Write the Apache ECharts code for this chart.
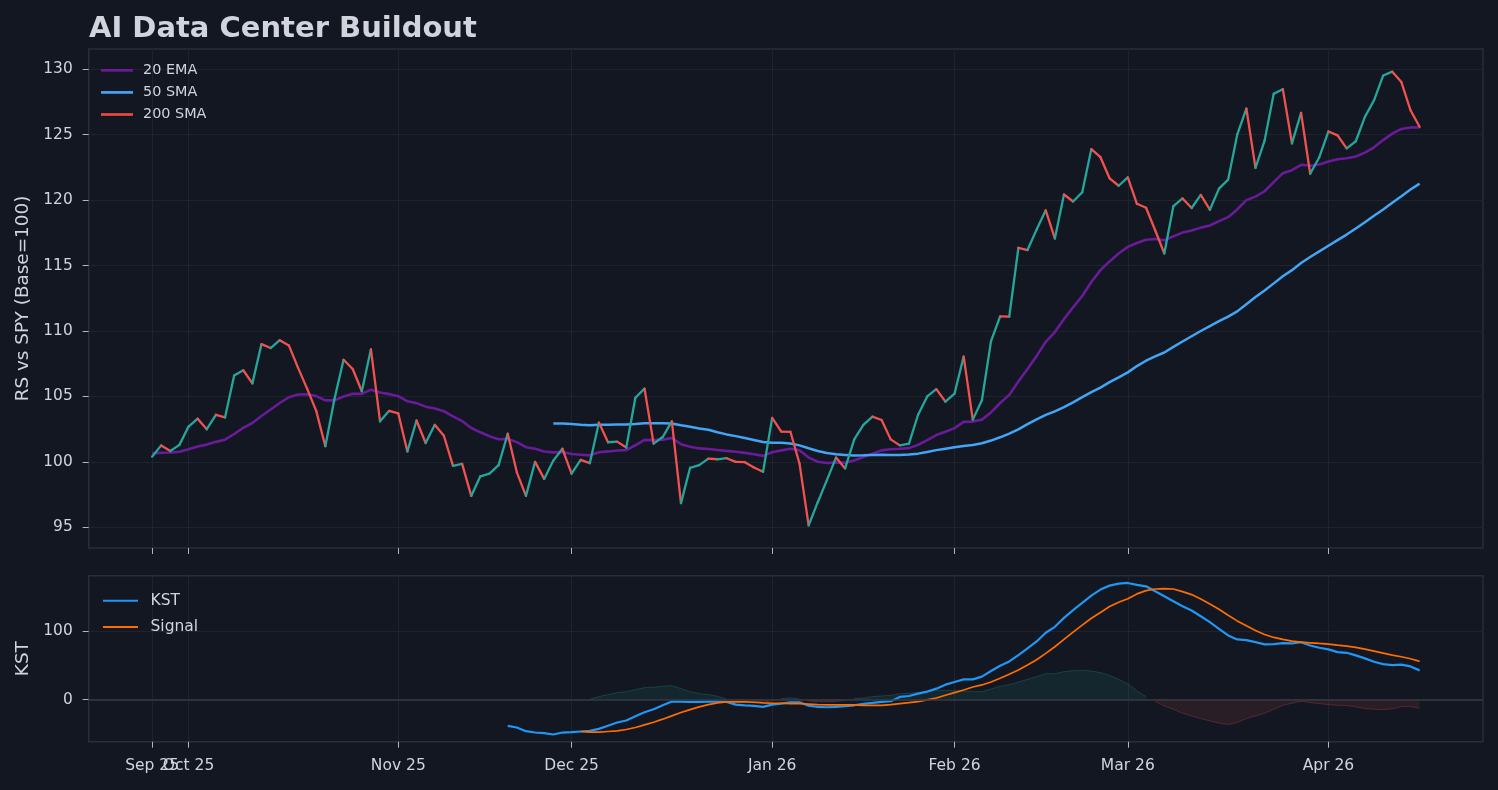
<!DOCTYPE html>
<html>
<head>
<meta charset="utf-8">
<script src="https://cdn.jsdelivr.net/npm/echarts@6/dist/echarts.min.js"></script>
<style>
html,body{margin:0;padding:0;background:#131722;}
#c{width:1498px;height:790px;}
</style>
</head>
<body>
<div id="c"></div>
<script>
// ---- data (trading-day index on x) ----
const tickIndex  = [0, 4, 27, 46, 68, 88, 107, 129];
const tickLabels = ['Sep 25', 'Oct 25', 'Nov 25', 'Dec 25', 'Jan 26', 'Feb 26', 'Mar 26', 'Apr 26'];
const priceTicks = [95, 100, 105, 110, 115, 120, 125, 130];
const kstTicks   = [0, 100];

const price = [
  100.4, 101.26, 100.83, 101.3, 102.7, 103.3, 102.5, 103.6, 103.4, 106.6,
  107.0, 106.0, 109.0, 108.7, 109.3, 108.9, 107.2, 105.6, 103.9, 101.2,
  104.8, 107.8, 107.1, 105.4, 108.6, 103.1, 103.9, 103.7, 100.8, 103.16,
  101.44, 102.83, 102.0, 99.7, 99.85, 97.4, 98.9, 99.1, 99.75, 102.15,
  99.2, 97.4, 100.0, 98.7, 100.1, 101.0, 99.1, 100.15, 99.9, 103.0,
  101.5, 101.55, 101.1, 104.9, 105.6, 101.4, 101.9, 103.1, 96.85, 99.55,
  99.75, 100.25, 100.2, 100.28, 100.0, 99.98, 99.57, 99.24, 103.36, 102.32,
  102.3, 99.87, 95.15, 96.92, 98.61, 100.33, 99.5, 101.72, 102.83, 103.46,
  103.2, 101.72, 101.26, 101.39, 103.6, 105.0, 105.56, 104.6, 105.22, 108.05,
  103.23, 104.71, 109.23, 111.12, 111.1, 116.36, 116.19, 117.75, 119.22, 117.07,
  120.43, 119.9, 120.6, 123.9, 123.28, 121.67, 121.1, 121.74, 119.72, 119.42,
  117.7, 115.93, 119.55, 120.13, 119.4, 120.4, 119.27, 120.88, 121.57, 125.0,
  127.0, 122.47, 124.55, 128.13, 128.48, 124.34, 126.67, 122.02, 123.28, 125.25,
  124.95, 123.96, 124.5, 126.36, 127.63, 129.52, 129.82, 129.02, 126.87, 125.61
];

const ema20 = [
  100.65, 100.7, 100.72, 100.78, 100.97, 101.18, 101.32, 101.53, 101.7, 102.13,
  102.6, 102.97, 103.51, 104.0, 104.5, 104.94, 105.15, 105.17, 105.03, 104.7,
  104.7, 105.0, 105.2, 105.2, 105.52, 105.3, 105.18, 105.02, 104.63, 104.49,
  104.22, 104.08, 103.87, 103.48, 103.12, 102.59, 102.26, 101.96, 101.73, 101.75,
  101.51, 101.12, 101.01, 100.8, 100.73, 100.76, 100.6, 100.55, 100.5, 100.74,
  100.8, 100.87, 100.9, 101.27, 101.68, 101.66, 101.7, 101.83, 101.35, 101.16,
  101.03, 100.98, 100.91, 100.84, 100.77, 100.69, 100.58, 100.46, 100.73, 100.88,
  101.01, 100.89, 100.33, 100.01, 99.91, 99.96, 99.93, 100.11, 100.37, 100.63,
  100.88, 100.96, 101.0, 101.05, 101.3, 101.67, 102.05, 102.3, 102.58, 103.06,
  103.08, 103.23, 103.78, 104.5, 105.12, 106.15, 107.1, 108.1, 109.17, 109.92,
  110.92, 111.82, 112.68, 113.75, 114.65, 115.32, 115.92, 116.43, 116.73, 116.97,
  117.03, 116.94, 117.23, 117.52, 117.68, 117.9, 118.06, 118.4, 118.7, 119.29,
  120.0, 120.27, 120.68, 121.38, 122.06, 122.29, 122.7, 122.63, 122.73, 122.95,
  123.12, 123.2, 123.34, 123.63, 124.04, 124.59, 125.08, 125.44, 125.55, 125.56
];

const sma50Start = 44;
const sma50 = [
  102.93, 102.93, 102.9, 102.84, 102.8, 102.83, 102.83, 102.85, 102.86, 102.9,
  102.95, 102.95, 102.95, 102.93, 102.8, 102.68, 102.55, 102.45, 102.27, 102.1,
  101.97, 101.82, 101.67, 101.52, 101.46, 101.46, 101.41, 101.26, 101.04, 100.83,
  100.68, 100.58, 100.53, 100.48, 100.5, 100.53, 100.55, 100.53, 100.53, 100.56,
  100.63, 100.76, 100.9, 101.01, 101.12, 101.22, 101.29, 101.42, 101.63, 101.88,
  102.16, 102.49, 102.88, 103.25, 103.59, 103.86, 104.19, 104.55, 104.95, 105.33,
  105.68, 106.09, 106.46, 106.84, 107.32, 107.73, 108.06, 108.36, 108.79, 109.2,
  109.6, 110.0, 110.38, 110.75, 111.1, 111.5, 112.05, 112.6, 113.1, 113.64,
  114.19, 114.65, 115.2, 115.66, 116.09, 116.52, 116.95, 117.37, 117.83, 118.31,
  118.81, 119.29, 119.8, 120.3, 120.81, 121.26
];

const sma200 = []; // not enough history: nothing drawn, legend only

const kstStart = 39;
const kst = [
  -38.3, -40.8, -46.1, -48.1, -49.0, -51.0, -48.1, -47.6, -46.6, -45.6,
  -42.7, -38.3, -33.5, -30.6, -24.3, -18.4, -14.1, -8.3, -2.9, -2.9,
  -3.4, -3.4, -2.9, -2.9, -3.4, -7.3, -8.3, -9.2, -10.7, -7.3,
  -5.8, -3.9, -4.0, -9.0, -10.7, -11.2, -10.7, -9.7, -8.3, -6.3,
  -4.9, -3.4, -2.4, 3.9, 5.3, 8.7, 11.6, 16.0, 21.8, 25.7,
  29.6, 29.6, 33.5, 41.7, 49.5, 55.8, 65.0, 74.8, 84.9, 97.6,
  106.3, 119.4, 130.6, 141.2, 151.9, 160.7, 166.5, 169.4, 170.4, 167.5,
  165.5, 158.2, 151.0, 143.7, 136.4, 130.1, 121.8, 113.1, 103.4, 93.7,
  87.9, 86.9, 84.0, 80.6, 81.1, 82.5, 82.0, 84.0, 79.1, 75.7,
  73.3, 69.4, 68.4, 64.6, 60.2, 55.3, 51.9, 50.5, 51.0, 48.5,
  42.7
];

const signalStart = 47;
const signal = [
  -46.6, -47.6, -47.6, -46.6, -45.6, -43.7, -40.8, -36.9, -33.0, -28.6,
  -23.8, -18.9, -14.6, -10.7, -7.3, -4.9, -3.4, -3.4, -3.4, -3.9,
  -4.9, -5.3, -5.3, -5.8, -5.8, -6.5, -7.3, -7.8, -7.8, -7.8,
  -7.8, -8.3, -8.3, -8.3, -7.3, -5.8, -4.4, -2.9, -0.5, 2.4,
  6.3, 10.2, 14.1, 18.4, 21.4, 25.7, 31.1, 36.9, 43.2, 50.5,
  58.2, 67.5, 77.2, 87.9, 98.5, 108.7, 118.9, 127.2, 135.9, 142.2,
  147.4, 154.4, 159.2, 161.6, 162.1, 161.6, 157.8, 153.4, 147.1, 139.8,
  132.0, 123.3, 115.0, 107.8, 101.0, 95.1, 90.8, 87.9, 85.4, 84.0,
  83.0, 82.0, 81.1, 79.6, 78.2, 76.2, 73.8, 70.9, 68.0, 65.0,
  62.6, 59.7, 55.8
];

const histStart = 48;
const hist = [
  0.5, 4.4, 7.3, 10.2, 11.6, 14.6, 17.5, 18.0, 19.4, 20.4,
  16.0, 11.6, 8.7, 7.3, 4.9, 1.0, -2.0, -3.0, -3.5, -4.0,
  -1.5, 1.5, 2.5, 1.0, -2.0, -3.0, -3.0, -2.5, -1.0, 1.9,
  2.4, 4.4, 5.3, 6.3, 8.7, 9.2, 10.7, 11.6, 13.6, 13.6,
  13.1, 12.6, 11.6, 11.6, 15.5, 19.4, 21.8, 25.7, 29.6, 33.5,
  37.9, 37.9, 40.8, 42.2, 42.7, 41.7, 39.3, 35.4, 29.6, 23.0,
  12.6, 4.4, -2.4, -9.2, -14.1, -19.9, -23.8, -27.7, -31.1, -34.5,
  -36.4, -33.5, -27.7, -23.8, -19.9, -14.1, -8.3, -5.3, -2.4, -4.4,
  -5.8, -7.3, -8.3, -8.7, -10.7, -13.1, -14.1, -14.6, -13.6, -10.2,
  -10.2, -12.6
];

// ---- styles ----
const BG = '#131722', TXT = '#d1d4dc', GRIDC = '#1f232e', BORDER = '#2a2e39', TICKC = '#b2b5be';
const UP = '#26a69a', DOWN = '#ef5350';
const FONT = 'DejaVu Sans';

const withStart = (arr, start) => arr.map((v, k) => [start + k, v]);
const segData = [];
for (let i = 0; i < price.length - 1; i++) segData.push([i, price[i], price[i + 1]]);
const histPos = hist.map((v, k) => [histStart + k, v > 0 ? v : null]);
const histNeg = hist.map((v, k) => [histStart + k, v < 0 ? v : null]);
const labelOf = v => { const k = tickIndex.indexOf(v); return k >= 0 ? tickLabels[k] : ''; };

function xAxisDef(grid, labelValues, withTicks) {
  return {
    type: 'value', gridIndex: grid, min: -6.95, max: 145.95, position: 'bottom', offset: 0,
    axisLine: { show: false, onZero: false },
    axisTick: { show: withTicks, customValues: tickIndex, length: 6, lineStyle: { color: TICKC, width: 1 } },
    axisLabel: {
      show: labelValues.length > 0, customValues: labelValues.length ? labelValues : tickIndex,
      formatter: labelOf, color: TXT, fontSize: 15.5, fontFamily: FONT, margin: 16.5, hideOverlap: false
    },
    splitLine: { show: withTicks, lineStyle: { color: GRIDC, width: 1 } }
  };
}
function yAxisDef(grid, min, max, ticks, name) {
  return {
    type: 'value', gridIndex: grid, min: min, max: max, position: 'left', offset: 0,
    axisLine: { show: false, onZero: false },
    axisTick: { show: true, customValues: ticks, length: 6, lineStyle: { color: TICKC, width: 1 } },
    axisLabel: { customValues: ticks, color: TXT, fontSize: 15.4, fontFamily: FONT, margin: 16 },
    splitLine: { show: true, lineStyle: { color: GRIDC, width: 1 } },
    name: name, nameLocation: 'middle', nameGap: 51, nameRotate: 90,
    nameTextStyle: { color: TXT, fontSize: 18.4, fontFamily: FONT }
  };
}

const chart = echarts.init(document.getElementById('c'), null, { renderer: 'canvas' });
chart.setOption({
  backgroundColor: BG,
  animation: false,
  textStyle: { fontFamily: FONT },
  title: {
    text: 'AI Data Center Buildout', left: 89, top: 14.5, padding: 0,
    textStyle: { color: TXT, fontSize: 29, fontWeight: 'bold', fontFamily: FONT }
  },
  legend: [
    {
      data: ['20 EMA', '50 SMA', '200 SMA'], orient: 'vertical', left: 101, top: 63.3, padding: 0,
      icon: 'rect', itemWidth: 32, itemHeight: 2.7, itemGap: 8.1, selectedMode: false,
      textStyle: { color: TXT, fontSize: 14.4, fontFamily: FONT, padding: [0, 0, 0, 5] }
    },
    {
      data: ['KST', 'Signal'], orient: 'vertical', left: 103, top: 592.8, padding: 0,
      icon: 'rect', itemWidth: 35, itemHeight: 2, itemGap: 10.2, selectedMode: false,
      textStyle: { color: TXT, fontSize: 15.5, fontFamily: FONT, padding: [0, 0, 0, 7.5] }
    }
  ],
  grid: [
    { left: 88.7, top: 49, width: 1394.3, height: 499, show: true, borderColor: BORDER, borderWidth: 1.5, backgroundColor: 'transparent', outerBoundsMode: 'none' },
    { left: 88.7, top: 575.7, width: 1394.3, height: 166, show: true, borderColor: BORDER, borderWidth: 1.5, backgroundColor: 'transparent', outerBoundsMode: 'none' }
  ],
  xAxis: [
    xAxisDef(0, [], true),
    xAxisDef(1, tickIndex.slice(1), true),
    xAxisDef(1, tickIndex.slice(0, 1), false)
  ],
  yAxis: [
    yAxisDef(0, 93.42, 131.55, priceTicks, 'RS vs SPY (Base=100)'),
    yAxisDef(1, -61.5, 181, kstTicks, 'KST')
  ],
  series: [
    {
      name: '20 EMA', type: 'line', xAxisIndex: 0, yAxisIndex: 0, data: withStart(ema20, 0),
      showSymbol: false, symbol: 'none', color: '#6a1b9a', lineStyle: { color: '#6a1b9a', width: 2.6 }, z: 2, silent: true
    },
    {
      name: '50 SMA', type: 'line', xAxisIndex: 0, yAxisIndex: 0, data: withStart(sma50, sma50Start),
      showSymbol: false, symbol: 'none', color: '#42a5f5', lineStyle: { color: '#42a5f5', width: 2.5 }, z: 2, silent: true
    },
    {
      name: '200 SMA', type: 'line', xAxisIndex: 0, yAxisIndex: 0, data: sma200,
      showSymbol: false, symbol: 'none', color: '#e84a3f', lineStyle: { color: '#e84a3f', width: 2.4 }, z: 2, silent: true
    },
    {
      name: 'price', type: 'custom', xAxisIndex: 0, yAxisIndex: 0, data: segData,
      encode: { x: 0, y: [1, 2] }, silent: true, z: 3,
      renderItem: function (params, api) {
        const i = api.value(0), a = api.value(1), b = api.value(2);
        const p1 = api.coord([i, a]), p2 = api.coord([i + 1, b]);
        return {
          type: 'line',
          shape: { x1: p1[0], y1: p1[1], x2: p2[0], y2: p2[1] },
          style: { stroke: b > a ? UP : DOWN, lineWidth: 2.3, lineCap: 'round' }
        };
      }
    },
    {
      name: 'histPos', type: 'line', xAxisIndex: 1, yAxisIndex: 1, data: histPos,
      showSymbol: false, symbol: 'none', connectNulls: false, silent: true, z: 1,
      lineStyle: { color: 'rgba(38,166,154,0.25)', width: 1 },
      areaStyle: { color: 'rgba(38,166,154,0.15)', origin: 0 }
    },
    {
      name: 'histNeg', type: 'line', xAxisIndex: 1, yAxisIndex: 1, data: histNeg,
      showSymbol: false, symbol: 'none', connectNulls: false, silent: true, z: 1,
      lineStyle: { color: 'rgba(239,83,80,0.25)', width: 1 },
      areaStyle: { color: 'rgba(239,83,80,0.15)', origin: 0 }
    },
    {
      name: 'KST', type: 'line', xAxisIndex: 1, yAxisIndex: 1, data: withStart(kst, kstStart),
      showSymbol: false, symbol: 'none', color: '#2196f3', lineStyle: { color: '#2196f3', width: 2.2 }, z: 3, silent: true,
      markLine: {
        silent: true, symbol: 'none', label: { show: false },
        lineStyle: { color: '#363a45', width: 1.5, type: 'solid' },
        data: [{ yAxis: 0 }]
      }
    },
    {
      name: 'Signal', type: 'line', xAxisIndex: 1, yAxisIndex: 1, data: withStart(signal, signalStart),
      showSymbol: false, symbol: 'none', color: '#ff6d00', lineStyle: { color: '#ff6d00', width: 1.7 }, z: 3, silent: true
    }
  ]
});
</script>
</body>
</html>
